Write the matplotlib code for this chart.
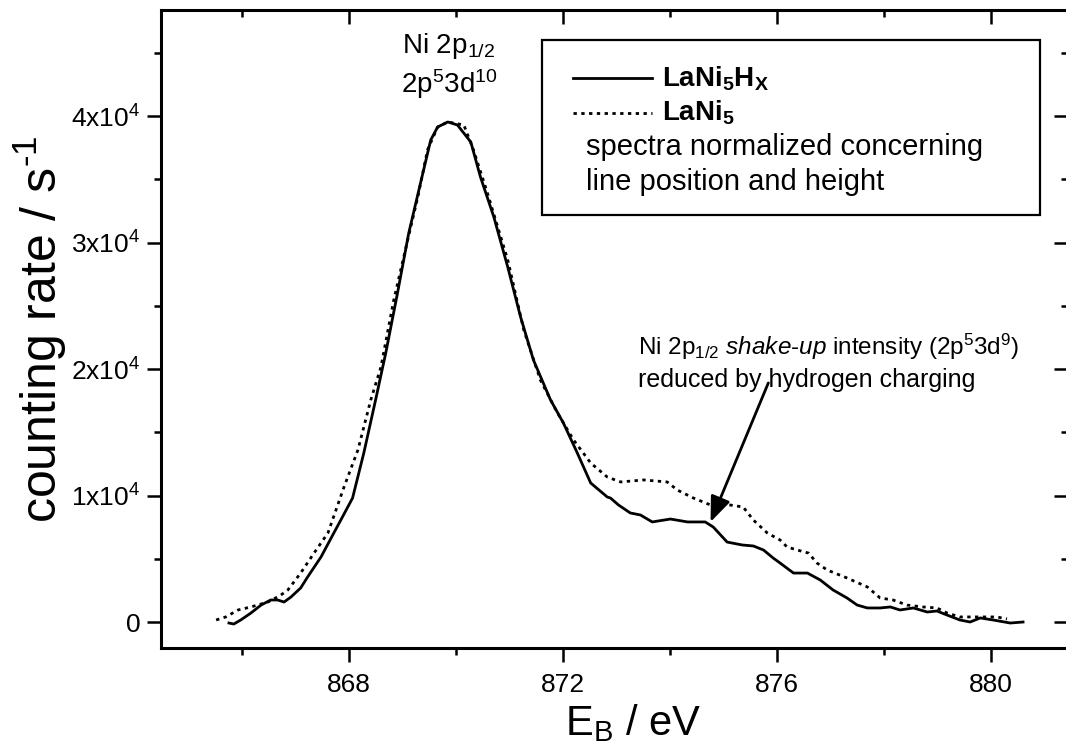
import matplotlib
matplotlib.use("Agg")
import matplotlib.pyplot as plt
from matplotlib import font_manager
from matplotlib.ticker import FixedLocator, MultipleLocator
from matplotlib.lines import Line2D
from matplotlib.patches import Rectangle

# Ni 2p1/2 spectra
e_hx = [865.76, 865.85, 865.98, 866.17, 866.36, 866.54, 866.67, 866.79, 866.92, 867.10,
        867.23, 867.48, 867.72, 867.85, 868.07, 868.28, 868.50, 868.69, 868.91, 869.12,
        869.34, 869.53, 869.66, 869.85, 870.03, 870.28, 870.46, 870.71, 870.97, 871.21,
        871.45, 871.77, 872.01, 872.27, 872.52, 872.83, 872.89, 873.04, 873.26, 873.45,
        873.67, 874.01, 874.33, 874.66, 874.81, 875.07, 875.35, 875.56, 875.75, 875.93,
        876.06, 876.31, 876.57, 876.81, 877.05, 877.31, 877.50, 877.69, 877.93, 878.12,
        878.30, 878.55, 878.81, 878.99, 879.18, 879.42, 879.61, 879.80, 880.04, 880.36,
        880.60]
rate_hx = [-80, -160, 160, 710, 1340, 1740, 1740, 1580, 1980, 2690,
           3560, 5140, 7040, 8060, 9800, 13360, 17550, 21260, 26010, 30750,
           34700, 38100, 39130, 39530, 39290, 37940, 35180, 32020, 28060, 24110,
           20710, 17550, 15730, 13360, 10990, 9880, 9800, 9250, 8620, 8460,
           7910, 8140, 7910, 7910, 7510, 6320, 6090, 6010, 5690, 5060,
           4660, 3870, 3870, 3320, 2530, 1900, 1340, 1110, 1110, 1190,
           950, 1110, 790, 870, 550, 160, 0, 320, 160, -80,
           0]

e_ni = [865.52, 865.70, 865.93, 866.17, 866.49, 866.73, 866.86, 867.10, 867.35, 867.61,
        867.91, 868.17, 868.41, 868.60, 868.84, 869.10, 869.29, 869.47, 869.66, 869.85,
        870.15, 870.33, 870.59, 870.97, 871.27, 871.58, 871.90, 872.20, 872.52, 872.83,
        873.08, 873.51, 873.95, 874.14, 874.44, 874.76, 875.00, 875.37, 875.56, 875.82,
        876.06, 876.19, 876.38, 876.59, 876.75, 876.94, 877.31, 877.69, 877.93, 878.17,
        878.43, 878.73, 878.99, 879.18, 879.42, 879.80, 880.11, 880.30]
rate_ni = [160, 400, 950, 1190, 1580, 2130, 2530, 3870, 5450, 7040,
           10670, 13600, 17550, 20160, 25450, 30200, 33600, 37310, 39130, 39530,
           39290, 37310, 33910, 28620, 23080, 19130, 16520, 14390, 12570, 11460,
           11070, 11230, 11070, 10430, 9800, 9250, 9330, 9090, 8060, 7040,
           6480, 5930, 5690, 5450, 4660, 4110, 3480, 2770, 1900, 1740,
           1340, 1190, 1110, 710, 400, 400, 400, 240]

y_ticks = [0, 10000, 20000, 30000, 40000]
y_ticklabels = ["0", "1x10$^4$", "2x10$^4$", "3x10$^4$", "4x10$^4$"]

names = {f.name for f in font_manager.fontManager.ttflist}
narrow = "Liberation Sans Narrow" if "Liberation Sans Narrow" in names else "Liberation Sans"
tick_size = 21 if narrow != "Liberation Sans" else 19

plt.rcParams["font.family"] = ["Liberation Sans", "DejaVu Sans"]
plt.rcParams["mathtext.fontset"] = "custom"
plt.rcParams["mathtext.rm"] = "Liberation Sans"
plt.rcParams["mathtext.it"] = "Liberation Sans:italic"
plt.rcParams["mathtext.bf"] = "Liberation Sans:bold"
plt.rcParams["mathtext.default"] = "regular"

W, H = 1066, 746
L, R, T, B = 161, 1068, 10, 648

fig = plt.figure(figsize=(W / 100, H / 100), dpi=100)
ax = fig.add_axes([L / W, 1 - B / H, (R - L) / W, (B - T) / H])

ax.plot(e_hx, rate_hx, color="black", lw=2.0, solid_joinstyle="round")
ax.plot(e_ni, rate_ni, color="black", lw=2.0, linestyle=(0, (1.2, 1.6)))

ax.set_xlim(864.49, 881.44)
ax.set_ylim(-2055, 48380)

ax.xaxis.set_major_locator(MultipleLocator(4))
ax.xaxis.set_minor_locator(MultipleLocator(2))
ax.yaxis.set_major_locator(FixedLocator(y_ticks))
ax.set_yticklabels(y_ticklabels)
ax.yaxis.set_minor_locator(MultipleLocator(5000))

for s in ax.spines.values():
    s.set_linewidth(2.2)
ax.tick_params(which="both", direction="out", width=1.8, labelsize=tick_size)
ax.tick_params(which="major", length=10)
ax.tick_params(axis="x", which="major", pad=8)
ax.tick_params(axis="y", which="major", pad=5)
ax.tick_params(which="minor", length=5)
for lab in ax.get_xticklabels() + ax.get_yticklabels():
    lab.set_family(narrow)

# inward ticks on top and right
top = ax.secondary_xaxis("top")
top.xaxis.set_major_locator(MultipleLocator(4))
top.xaxis.set_minor_locator(MultipleLocator(2))
top.tick_params(which="both", direction="in", width=1.8, labeltop=False)
top.tick_params(which="major", length=10)
top.tick_params(which="minor", length=5)
right = ax.secondary_yaxis("right")
right.yaxis.set_major_locator(FixedLocator(y_ticks))
right.yaxis.set_minor_locator(MultipleLocator(5000))
right.tick_params(which="both", direction="in", width=1.8, labelright=False)
right.tick_params(which="major", length=10)
right.tick_params(which="minor", length=5)

ax.set_xlabel("E$_B$ / eV", fontsize=30, family=narrow, labelpad=4)
ax.xaxis.label.set_x(0.52)
ax.set_ylabel("counting rate / s$^{\\text{-}1}$", fontsize=36, family=narrow)
ax.yaxis.set_label_coords(-0.101, 0.50)

# peak label
ax.text(869.87, 45000, "Ni 2p$_{1/2}$", fontsize=20, ha="center", va="baseline")
ax.text(869.87, 41800, "2p$^5$3d$^{10}$", fontsize=20, ha="center", va="baseline")

# shake-up annotation
ax.text(873.41, 21100, "Ni 2p$_{1/2}$ $\\mathit{shake}$-$\\mathit{up}$ intensity (2p$^5$3d$^9$)",
        fontsize=17.5, ha="left", va="baseline")
ax.text(873.41, 18550, "reduced by hydrogen charging", fontsize=18, ha="left", va="baseline")
k = e_hx.index(874.66)
ax.annotate("", xy=(e_hx[k] + 0.1, rate_hx[k]), xytext=(875.84, 18900),
            arrowprops=dict(arrowstyle="-|>,head_length=0.55,head_width=0.22", lw=2.0,
                            color="black", mutation_scale=28, shrinkA=0, shrinkB=0))

# legend box
ax.add_patch(Rectangle((0.420, 0.679), 0.549, 0.274, transform=ax.transAxes,
                       fill=False, lw=1.6, color="black"))
ax.add_line(Line2D([0.454, 0.541], [0.893, 0.893], transform=ax.transAxes,
                   color="black", lw=2.0))
ax.add_line(Line2D([0.454, 0.541], [0.839, 0.839], transform=ax.transAxes,
                   color="black", lw=2.0, linestyle=(0, (1.2, 1.6))))
ax.text(0.552, 0.893, "$\\mathbf{LaNi_5H_X}$", transform=ax.transAxes,
        fontsize=20, va="center")
ax.text(0.552, 0.839, "$\\mathbf{LaNi_5}$", transform=ax.transAxes,
        fontsize=20, va="center")
ax.text(0.469, 0.785, "spectra normalized concerning", transform=ax.transAxes,
        fontsize=21, va="center")
ax.text(0.469, 0.730, "line position and height", transform=ax.transAxes,
        fontsize=21, va="center")

fig.savefig("out.png", dpi=100)
